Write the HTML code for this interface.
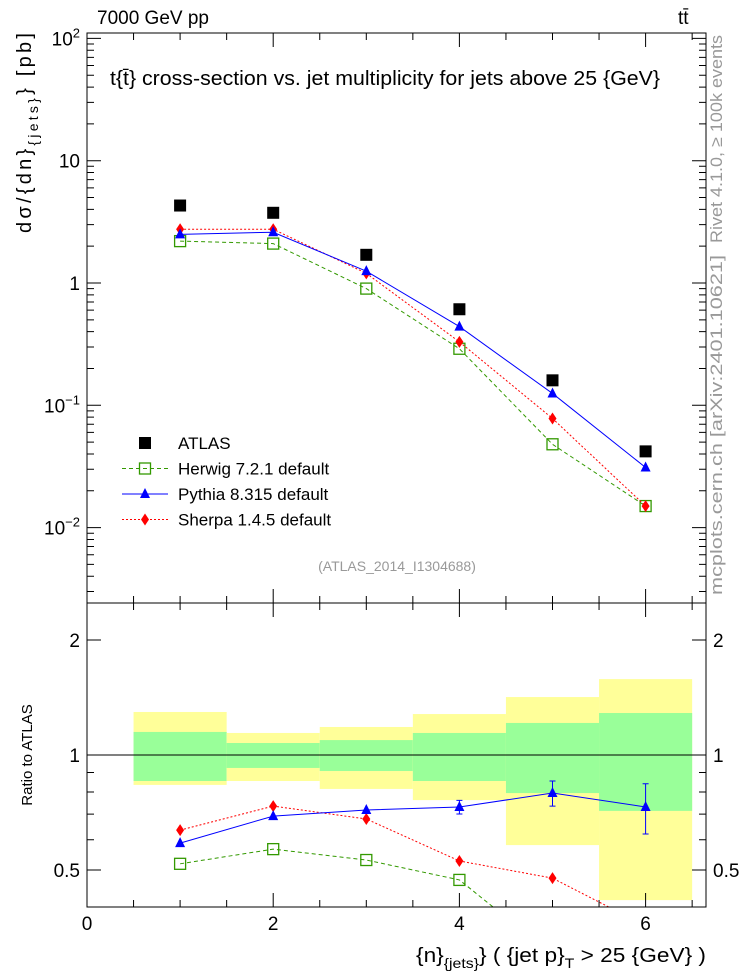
<!DOCTYPE html>
<html><head><meta charset="utf-8"><style>
body{margin:0;background:#fff;}
svg{font-family:"Liberation Sans",sans-serif;}
</style></head><body>
<svg id="c" width="746" height="972" xmlns="http://www.w3.org/2000/svg">
<defs>
<clipPath id="cm"><rect x="87" y="33" width="619" height="570"/></clipPath>
<clipPath id="cr"><rect x="87" y="603" width="619" height="304"/></clipPath>
</defs>
<g id="bands" clip-path="url(#cr)"></g>
<g id="mainmarks" clip-path="url(#cm)"></g>
<g id="ratiomarks" clip-path="url(#cr)"></g>
<g id="axes"></g>
<text x="97" y="24" font-size="19">7000 GeV pp</text>
<text x="678" y="24" font-size="19">tt̄</text>
<text x="110" y="85" font-size="20" textLength="550" lengthAdjust="spacingAndGlyphs">t{t̄} cross-section vs. jet multiplicity for jets above 25 {GeV}</text>
<text x="397" y="571" font-size="14" fill="#999" text-anchor="middle">(ATLAS_2014_I1304688)</text>
<text transform="translate(31,33) rotate(-90)" font-size="20" text-anchor="end" textLength="200" lengthAdjust="spacing">dσ/{dn}<tspan font-size="14" dy="7">{jets}</tspan><tspan dy="-7">} [pb]</tspan></text>
<text transform="translate(32,755) rotate(-90)" font-size="15" text-anchor="middle">Ratio to ATLAS</text>
<text x="706" y="962" font-size="20" text-anchor="end" textLength="290" lengthAdjust="spacingAndGlyphs">{n}<tspan font-size="14" dy="6">{jets}</tspan><tspan dy="-6">} ( {jet p}</tspan><tspan font-size="14" dy="6">T</tspan><tspan dy="-6"> &gt; 25 {GeV} )</tspan></text>
<text transform="translate(722,35) rotate(-90)" font-size="17" fill="#999" text-anchor="end" textLength="208" lengthAdjust="spacingAndGlyphs">Rivet 4.1.0, ≥ 100k events</text>
<text transform="translate(722,255) rotate(-90)" font-size="17" fill="#999" text-anchor="end" textLength="340" lengthAdjust="spacingAndGlyphs">mcplots.cern.ch [arXiv:2401.10621]</text>
<g id="legend"></g>
</svg>
<script>
const categories=[1,2,3,4,5,6];
const atlas=[4.3,3.75,1.7,0.61,0.16,0.042];
const herwig=[2.2,2.1,0.9,0.29,0.048,0.015];
const pythia=[2.5,2.6,1.25,0.44,0.125,0.031];
const sherpa=[2.75,2.75,1.2,0.33,0.078,0.015];
const herwigRatio=[0.519,0.567,0.531,0.471,0.30,0.357];
const pythiaRatio=[0.588,0.692,0.718,0.731,0.795,0.731];
const sherpaRatio=[0.636,0.735,0.68,0.528,0.476,0.357];
const pythiaRatioErr=[0,0,0,0.03,0.06,0.11];
const yellowLo=[0.835,0.855,0.815,0.762,0.581,0.417];
const yellowHi=[1.296,1.142,1.184,1.28,1.418,1.58];
const greenLo=[0.855,0.925,0.908,0.855,0.795,0.714];
const greenHi=[1.149,1.075,1.094,1.142,1.213,1.288];
const xTicks=[0,2,4,6];
const yTicks=[0.01,0.1,1,10,100];
const yTickLabels=["10<tspan font-size='13' dy='-8'>−2</tspan>","10<tspan font-size='13' dy='-8'>−1</tspan>","1","10","10<tspan font-size='13' dy='-8'>2</tspan>"];
const rTicks=[0.5,1,2];

const NS="http://www.w3.org/2000/svg";
const X=v=>87+93.1*v;
const Y=v=>283-122.3*Math.log10(v);
const R=v=>755-115*Math.log2(v);
function mk(tag,parent,attrs){const e=document.createElementNS(NS,tag);for(const k in attrs)e.setAttribute(k,attrs[k]);document.getElementById(parent).appendChild(e);return e;}

categories.forEach((c,i)=>{
 let e=mk('rect','bands',{x:X(c-0.5),y:R(yellowHi[i]),width:X(1)-X(0),height:R(yellowLo[i])-R(yellowHi[i]),fill:'#ffff99'});
 
 
 e=mk('rect','bands',{x:X(c-0.5),y:R(greenHi[i]),width:X(1)-X(0),height:R(greenLo[i])-R(greenHi[i]),fill:'#99ff99'});
 
 
});
let l1=mk('line','bands',{x1:87,x2:706,y1:R(1),y2:R(1),stroke:'#000','stroke-width':1});



function marker(g,type,x,y,col){
 let e;
 if(type==='sq'){e=mk('rect',g,{x:x-6,y:y-6,width:12,height:12,fill:'#000'});}
 else if(type==='osq'){e=mk('rect',g,{x:x-5.5,y:y-5.5,width:11,height:11,fill:'none',stroke:col,'stroke-width':1.3});}
 else if(type==='tri'){e=mk('polygon',g,{points:`${x},${y-6} ${x-5},${y+4} ${x+5},${y+4}`,fill:col});}
 else {e=mk('polygon',g,{points:`${x},${y-6} ${x-4},${y} ${x},${y+6} ${x+4},${y}`,fill:col});}
 return e;
}
function series(g,vals,fy,col,dash,type,name){
 const pts=categories.map((c,i)=>X(c)+','+fy(vals[i])).join(' ');
 let p=mk('polyline',g,{points:pts,fill:'none',stroke:col,'stroke-width':1,'stroke-dasharray':dash});
 
 
 categories.forEach((c,i)=>{const m=marker(g,type,X(c),fy(vals[i]),col);
  
  });
}
series('mainmarks',herwig,Y,'#339900','4,3','osq','herwig');
series('mainmarks',sherpa,Y,'#ff0000','2,2','dia','sherpa');
series('mainmarks',pythia,Y,'#0000ff','','tri','pythia');
categories.forEach((c,i)=>{const m=marker('mainmarks','sq',X(c),Y(atlas[i]),'#000');
 
 });
series('ratiomarks',herwigRatio,R,'#339900','4,3','osq','herwig-ratio');
series('ratiomarks',sherpaRatio,R,'#ff0000','2,2','dia','sherpa-ratio');
series('ratiomarks',pythiaRatio,R,'#0000ff','','tri','pythia-ratio');
categories.forEach((c,i)=>{if(pythiaRatioErr[i]>0){
 const e=mk('path','ratiomarks',{d:`M${X(c)},${R(pythiaRatio[i]+pythiaRatioErr[i])}V${R(pythiaRatio[i]-pythiaRatioErr[i])}M${X(c)-3},${R(pythiaRatio[i]+pythiaRatioErr[i])}h6M${X(c)-3},${R(pythiaRatio[i]-pythiaRatioErr[i])}h6`,stroke:'#0000ff',fill:'none'});
 
 }});

[[33,603],[603,907]].forEach(([t,b])=>{const f=mk('rect','axes',{x:87,y:t,width:619,height:b-t,fill:'none',stroke:'#000','stroke-width':1});
 
 });
let d='';
for(let v=0;v<=6.6;v+=0.5){const L=(v%2===0)?14:7;d+=`M${X(v)},907v${-L}M${X(v)},603v${-L}M${X(v)},603v${L}M${X(v)},33v${L}`;}
for(let e=-3;e<=2;e++)for(let k=1;k<10;k++){const v=k*Math.pow(10,e);const y=Y(v);if(y<33||y>603)continue;const L=k===1?14:7;d+=`M87,${y}h${L}M706,${y}h${-L}`;}
[0.4,0.5,0.6,0.7,0.8,0.9,1,2].forEach(v=>{const y=R(v);const L=rTicks.includes(v)?14:7;d+=`M87,${y}h${L}M706,${y}h${-L}`;});
const tk=mk('path','axes',{d:d,stroke:'#000',fill:'none','stroke-width':1});


xTicks.forEach(v=>{const t=mk('text','axes',{x:X(v),y:930,'font-size':19,'text-anchor':'middle'});t.textContent=v;
 
 });
yTicks.forEach((v,i)=>{const t=mk('text','axes',{x:80,y:Y(v)+7,'font-size':19,'text-anchor':'end'});t.innerHTML=yTickLabels[i];
 
 });
rTicks.forEach(v=>{[[80,'end'],[713,'start']].forEach(([x,a])=>{const t=mk('text','axes',{x:x,y:R(v)+7,'font-size':19,'text-anchor':a});t.textContent=v;
 
 });});

const leg=[['ATLAS','sq','#000',null],['Herwig 7.2.1 default','osq','#339900','4,3'],['Pythia 8.315 default','tri','#0000ff',''],['Sherpa 1.4.5 default','dia','#ff0000','2,2']];
leg.forEach(([n,t,c,dsh],i)=>{const y=443+25.5*i;
 if(dsh!==null){const l=mk('line','legend',{x1:122,x2:168,y1:y,y2:y,stroke:c,'stroke-dasharray':dsh});
  
  }
 const m=marker('legend',t,145,y,c);
 
 
 const tx=mk('text','legend',{x:178,y:y+6,'font-size':17});tx.textContent=n;
 
 });
</script>
</body></html>
